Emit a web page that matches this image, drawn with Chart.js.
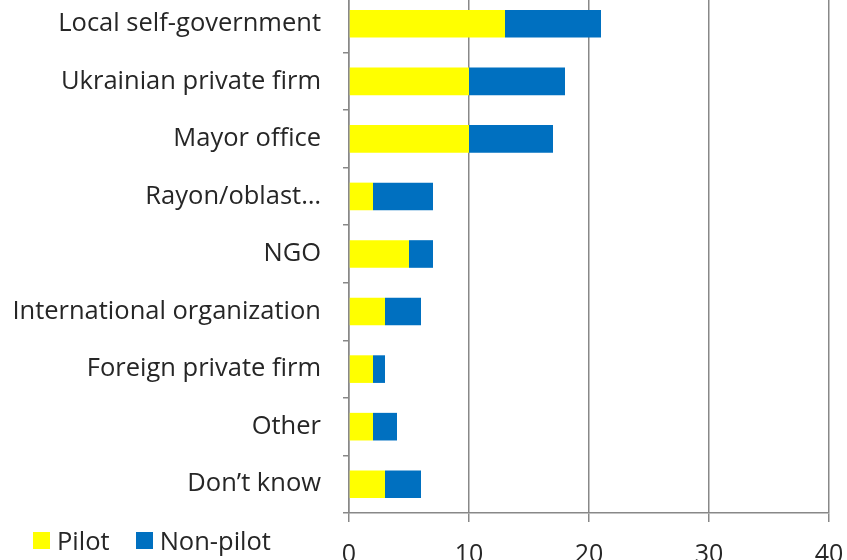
<!DOCTYPE html>
<html>
<head>
<meta charset="utf-8">
<script src="https://cdn.jsdelivr.net/npm/chart.js@4.4.1/dist/chart.umd.min.js"></script>
<style>
  html, body { margin: 0; padding: 0; background: #fff; }
  #wrap { position: relative; width: 847px; height: 560px; overflow: hidden; }
  #box { position: absolute; left: 0; top: -10px; width: 847px; height: 590px; }
  #legend { position: absolute; left: 33px; top: 523px; font: 25.5px 'Open Sans', sans-serif; line-height: normal; color: #262626; display: flex; }
  #legend span.item { display: flex; align-items: center; margin-right: 26px; }
  #legend span.sw { display: inline-block; width: 17px; height: 17px; margin-right: 7px; }
</style>
</head>
<body>
<div id="wrap">
  <div id="box"><canvas id="myChart"></canvas></div>
  <div id="legend"></div>
</div>
<script>
var categories = ['Local self-government', 'Ukrainian private firm', 'Mayor office', 'Rayon/oblast\u2026',
                  'NGO', 'International organization', 'Foreign private firm', 'Other', 'Don\u2019t know'];
var pilot    = [13, 10, 10, 2, 5, 3, 2, 2, 3];
var nonPilot = [8, 8, 7, 5, 2, 3, 1, 2, 3];
var xTicks   = [0, 10, 20, 30, 40];

var ctx = document.getElementById('myChart');

var data = {
    labels: categories,
    datasets: [
        {
            label: 'Pilot',
            data: pilot,
            backgroundColor: '#FFFF00',
            borderWidth: 0
        },
        {
            label: 'Non-pilot',
            data: nonPilot,
            backgroundColor: '#0070C0',
            borderWidth: 0
        }
    ]
};

var chart = new Chart(ctx, {
    type: 'bar',
    data: data,
    options: {
        indexAxis: 'y',
        responsive: true,
        maintainAspectRatio: false,
        animation: false,
        layout: { padding: { top: 5, right: 18, left: 0, bottom: 0 } },
        datasets: { bar: { categoryPercentage: 1, barPercentage: 0.48 } },
        plugins: {
            legend: { display: false },
            tooltip: { enabled: false }
        },
        scales: {
            x: {
                stacked: true,
                min: xTicks[0],
                max: xTicks[xTicks.length - 1],
                afterBuildTicks: function (s) { s.ticks = xTicks.map(function (v) { return { value: v }; }); },
                afterFit: function (s) { s.height = 67; s.paddingLeft = 0; s.paddingRight = 0; },
                border: { color: '#888', width: 1.5 },
                grid: { color: '#888', lineWidth: 1.5, tickLength: 9 },
                ticks: { font: { family: 'Open Sans', size: 25 }, color: '#262626', padding: 18 }
            },
            y: {
                stacked: true,
                afterFit: function (s) { s.width = 349; s.paddingTop = 0; s.paddingBottom = 0; },
                border: { color: '#888', width: 1.5 },
                grid: { drawOnChartArea: false, color: '#888', lineWidth: 1.5, tickLength: 6 },
                ticks: { font: { family: 'Open Sans', size: 25.5 }, color: '#262626', padding: 22 }
            }
        }
    }
});

// legend built from the datasets
var legend = document.getElementById('legend');
chart.data.datasets.forEach(function (ds) {
    var item = document.createElement('span');
    item.className = 'item';
    var sw = document.createElement('span');
    sw.className = 'sw';
    sw.style.background = ds.backgroundColor;
    item.appendChild(sw);
    item.appendChild(document.createTextNode(ds.label));
    legend.appendChild(item);
});
</script>
</body>
</html>
